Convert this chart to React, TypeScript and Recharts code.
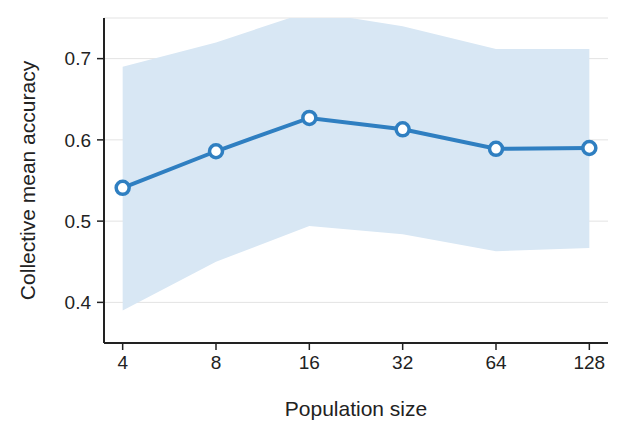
import React from "react";
import {
  ComposedChart,
  Area,
  Line,
  XAxis,
  YAxis,
  CartesianGrid,
} from "recharts";

const sizes = [4, 8, 16, 32, 64, 128];
const meanAcc = [0.541, 0.586, 0.627, 0.613, 0.589, 0.59];
const lowerBand = [0.39, 0.45, 0.494, 0.484, 0.463, 0.467];
const upperBand = [0.69, 0.72, 0.758, 0.74, 0.712, 0.712];
const yTicks = [0.4, 0.5, 0.6, 0.7];

const data = sizes.map((s, i) => ({
  x: Math.log2(s),
  mean: meanAcc[i],
  band: [lowerBand[i], upperBand[i]],
}));

const font = "'Liberation Sans', Arial, sans-serif";
const axisColor = "#222";
const axisLine = { stroke: axisColor, strokeWidth: 2 };
const tickLine = { stroke: axisColor, strokeWidth: 1.5 };

export default function App() {
  return (
    <div style={{ position: "absolute", left: 0, top: 0, background: "#fff" }}>
      <ComposedChart
        width={624}
        height={438}
        data={data}
        margin={{ top: 18, right: 16, left: 0, bottom: 0 }}
      >
        <CartesianGrid vertical={false} horizontal stroke="#e3e3e3" />
        <XAxis
          dataKey="x"
          type="number"
          domain={[1.8, 7.2]}
          ticks={sizes.map((s) => Math.log2(s))}
          tickFormatter={(v: number) => String(Math.round(Math.pow(2, v)))}
          height={95}
          axisLine={axisLine}
          tickLine={tickLine}
          tickSize={7}
          tickMargin={6}
          tick={{ fill: axisColor, fontSize: 19, fontFamily: font }}
          label={{
            value: "Population size",
            position: "insideBottom",
            offset: 22,
            fill: axisColor,
            fontSize: 21,
            fontFamily: font,
          }}
        />
        <YAxis
          type="number"
          domain={[0.35, 0.75]}
          allowDataOverflow
          ticks={yTicks}
          tickFormatter={(v: number) => v.toFixed(1)}
          width={104}
          axisLine={axisLine}
          tickLine={tickLine}
          tickSize={7}
          tickMargin={6}
          tick={{ fill: axisColor, fontSize: 19, fontFamily: font }}
          label={{
            value: "Collective mean accuracy",
            angle: -90,
            position: "insideLeft",
            offset: 28,
            style: { textAnchor: "middle" },
            fill: axisColor,
            fontSize: 21,
            fontFamily: font,
          }}
        />
        <Area
          dataKey="band"
          type="linear"
          stroke="none"
          fill="#d8e7f4"
          fillOpacity={1}
          isAnimationActive={false}
        />
        <Line
          dataKey="mean"
          type="linear"
          stroke="#2f7fc1"
          strokeWidth={4}
          dot={{ r: 6.5, fill: "#fff", stroke: "#2f7fc1", strokeWidth: 3.5 }}
          isAnimationActive={false}
        />
      </ComposedChart>
    </div>
  );
}
